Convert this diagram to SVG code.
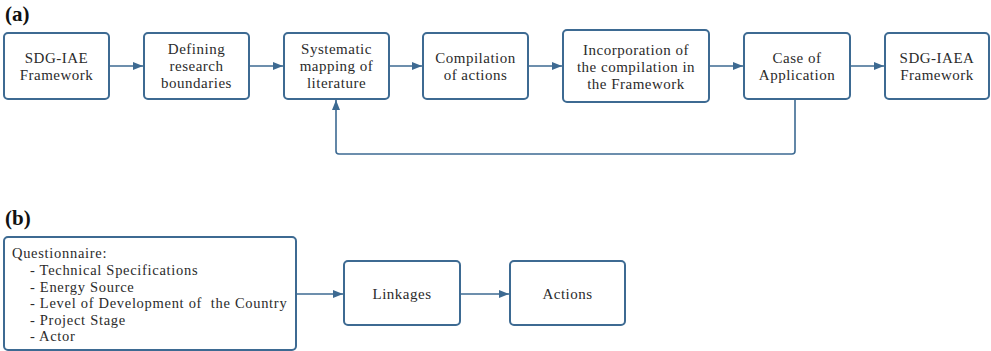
<svg xmlns="http://www.w3.org/2000/svg" width="991" height="351" viewBox="0 0 991 351">
<style>
.box{fill:#fff;stroke:#3d6a92;stroke-width:2}
.t{font-family:"Liberation Serif","DejaVu Serif",serif;font-size:15px;letter-spacing:0.5px;fill:#2b2b2b;text-anchor:middle}
.q{font-family:"Liberation Serif","DejaVu Serif",serif;font-size:14.5px;letter-spacing:0.7px;fill:#2b2b2b}
.lbl{font-family:"Liberation Serif",serif;font-size:21px;font-weight:bold;fill:#111}
.c{fill:none;stroke:#3d6a92;stroke-width:1.6}
</style>
<defs>
<marker id="ah" viewBox="0 0 10 10" refX="10" refY="5" markerWidth="10" markerHeight="10" markerUnits="userSpaceOnUse" orient="auto">
<path d="M0,1 L10,5 L0,9 Z" fill="#3d6a92"/>
</marker>
</defs>
<rect width="991" height="351" fill="#fff"/>
<text class="lbl" x="5" y="21">(a)</text>
<text class="lbl" x="5" y="225">(b)</text>

<g id="n1"><rect class="box" x="4" y="33" width="105" height="66" rx="4"/><text class="t" x="56.5" y="63">SDG-IAE</text><text class="t" x="56.5" y="80">Framework</text></g>
<g id="n2"><rect class="box" x="144" y="33" width="105" height="66" rx="4"/><text class="t" x="196.5" y="54">Defining</text><text class="t" x="196.5" y="71">research</text><text class="t" x="196.5" y="88">boundaries</text></g>
<g id="n3"><rect class="box" x="284" y="33" width="105" height="66" rx="4"/><text class="t" x="336.5" y="54">Systematic</text><text class="t" x="336.5" y="71">mapping of</text><text class="t" x="336.5" y="88">literature</text></g>
<g id="n4"><rect class="box" x="423" y="33" width="105" height="66" rx="4"/><text class="t" x="475.5" y="63">Compilation</text><text class="t" x="475.5" y="80">of actions</text></g>
<g id="n5"><rect class="box" x="563" y="30" width="146" height="72" rx="4"/><text class="t" x="636" y="55">Incorporation of</text><text class="t" x="636" y="72">the compilation in</text><text class="t" x="636" y="89">the Framework</text></g>
<g id="n6"><rect class="box" x="744" y="33" width="106" height="66" rx="4"/><text class="t" x="797" y="63">Case of</text><text class="t" x="797" y="80">Application</text></g>
<g id="n7"><rect class="box" x="885" y="33" width="104" height="66" rx="4"/><text class="t" x="937" y="63">SDG-IAEA</text><text class="t" x="937" y="80">Framework</text></g>

<g id="n8"><rect class="box" x="4" y="237" width="292" height="113" rx="4"/>
<text class="q" x="12" y="258">Questionnaire:</text>
<text class="q" x="30" y="275">- Technical Specifications</text>
<text class="q" x="30" y="291.5">- Energy Source</text>
<text class="q" x="30" y="308" xml:space="preserve">- Level of Development of  the Country</text>
<text class="q" x="30" y="324.5">- Project Stage</text>
<text class="q" x="30" y="341">- Actor</text></g>
<g id="n9"><rect class="box" x="344" y="261" width="116" height="64" rx="4"/><text class="t" x="402" y="299">Linkages</text></g>
<g id="n10"><rect class="box" x="510" y="261" width="115" height="64" rx="4"/><text class="t" x="567.5" y="299">Actions</text></g>

<g id="connectors">
<line class="c" x1="109" y1="66" x2="143" y2="66" marker-end="url(#ah)"/>
<line class="c" x1="249" y1="66" x2="283" y2="66" marker-end="url(#ah)"/>
<line class="c" x1="389" y1="66" x2="422" y2="66" marker-end="url(#ah)"/>
<line class="c" x1="528" y1="66" x2="562" y2="66" marker-end="url(#ah)"/>
<line class="c" x1="709" y1="66" x2="743" y2="66" marker-end="url(#ah)"/>
<line class="c" x1="850" y1="66" x2="884" y2="66" marker-end="url(#ah)"/>
<path class="c" d="M795,99 V151 Q795,154 792,154 H339 Q336,154 336,151 V100" marker-end="url(#ah)"/>
<line class="c" x1="296" y1="294" x2="343" y2="294" marker-end="url(#ah)"/>
<line class="c" x1="460" y1="294" x2="509" y2="294" marker-end="url(#ah)"/>
</g>
</svg>
